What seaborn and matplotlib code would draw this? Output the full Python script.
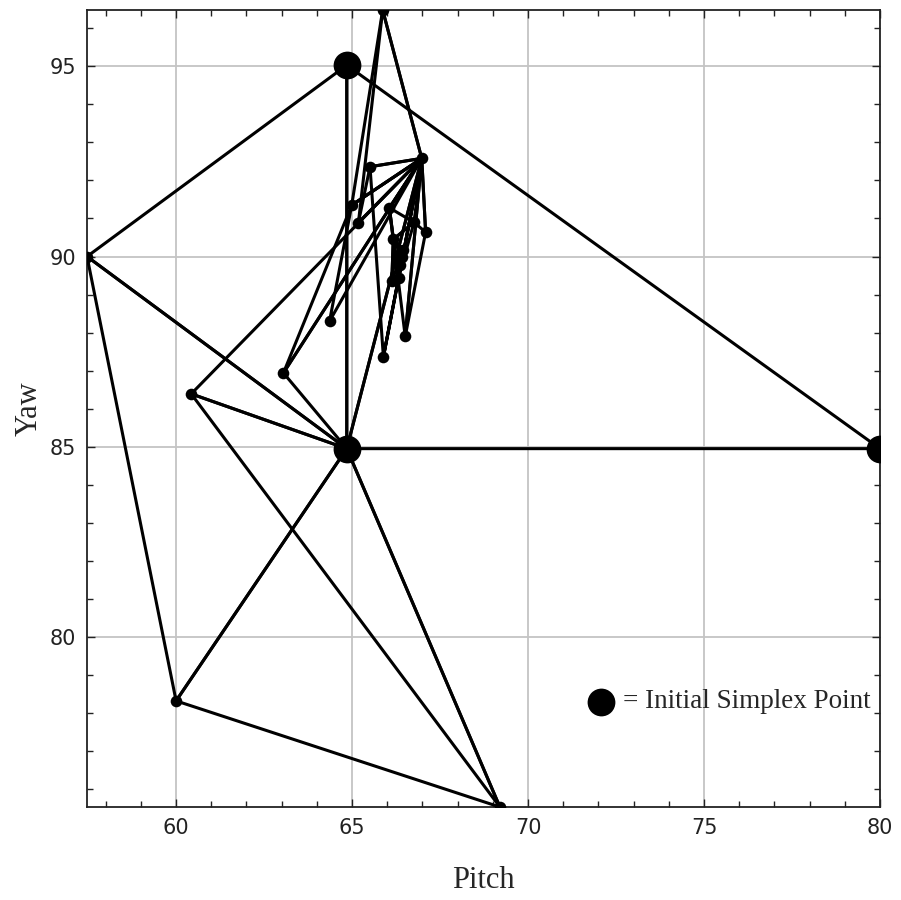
import matplotlib
matplotlib.use("Agg")
import matplotlib.pyplot as plt
from matplotlib.ticker import MultipleLocator
import numpy as np
import pandas as pd
import seaborn as sb

# vertices visited by the simplex search (pitch, yaw)
pitch = [64.85, 64.85, 80.00, 57.47, 60.00, 69.20, 60.43, 66.98, 63.05, 64.99,
         64.36, 65.87, 65.18, 65.51, 65.89, 66.06, 66.51, 67.09, 66.76, 66.17,
         66.13, 66.32, 66.46, 66.41, 66.36]
yaw = [95.03, 84.95, 84.95, 90.00, 78.32, 75.53, 86.39, 92.58, 86.94, 91.35,
       88.30, 96.48, 90.89, 92.36, 87.36, 91.28, 87.90, 90.64, 90.90, 90.45,
       89.35, 89.44, 90.18, 90.00, 89.79]
initial = [0, 1, 2]

# successive simplices (vertex indices)
simplices = [(0, 1, 2), (0, 1, 3), (1, 3, 4), (1, 4, 5), (1, 5, 6), (1, 6, 7),
             (1, 7, 8), (7, 8, 9), (7, 9, 10), (7, 9, 11), (7, 11, 12),
             (7, 12, 13), (7, 13, 14), (7, 14, 21), (7, 21, 15), (7, 15, 16),
             (7, 16, 17), (7, 17, 18), (15, 18, 19), (18, 19, 21), (19, 21, 20),
             (19, 20, 22), (19, 22, 23), (22, 23, 24), (21, 23, 24)]

rows = []
for k, tri in enumerate(simplices):
    for i in list(tri) + [tri[0]]:
        rows.append((k, pitch[i], yaw[i]))
df_lines = pd.DataFrame(rows, columns=["simplex", "Pitch", "Yaw"])

df_pts = pd.DataFrame({"Pitch": pitch, "Yaw": yaw})
df_pts["initial"] = df_pts.index.isin(initial)

sb.set_style("ticks")
plt.rcParams["font.family"] = ["DejaVu Sans"]

fig, ax = plt.subplots(figsize=(9.01, 9.0), dpi=100)
fig.subplots_adjust(left=0.0966, right=0.9767, top=0.9889, bottom=0.1033)

sb.lineplot(data=df_lines, x="Pitch", y="Yaw", units="simplex", estimator=None,
            sort=False, color="black", lw=2.2, ax=ax, zorder=3)
sb.scatterplot(data=df_pts[~df_pts["initial"]], x="Pitch", y="Yaw", s=70,
               color="black", linewidth=0, ax=ax, zorder=4)
sb.scatterplot(data=df_pts[df_pts["initial"]], x="Pitch", y="Yaw", s=400,
               color="black", linewidth=0, ax=ax, zorder=5)

ax.set_xlim(min(pitch), max(pitch))
ax.set_ylim(min(yaw), max(yaw))
ax.xaxis.set_major_locator(MultipleLocator(5))
ax.xaxis.set_minor_locator(MultipleLocator(1))
ax.yaxis.set_major_locator(MultipleLocator(5))
ax.yaxis.set_minor_locator(MultipleLocator(1))
ax.tick_params(which="both", direction="in", top=True, right=True,
               colors="#222222", labelsize=15, width=1)
ax.tick_params(which="major", length=6, pad=8)
ax.tick_params(which="minor", length=4)
ax.grid(which="major", color="#c4c4c4", lw=1.3)
ax.set_axisbelow(True)
for sp in ax.spines.values():
    sp.set_color("#222222")
    sp.set_linewidth(1.3)

ax.set_xlabel("Pitch", family="Liberation Serif", fontsize=22, labelpad=20)
ax.set_ylabel("Yaw", family="Liberation Serif", fontsize=22, labelpad=4)

# key for the large markers
ax.scatter([0.648], [0.132], transform=ax.transAxes, s=400, color="black",
           linewidth=0, zorder=6)
ax.text(0.676, 0.132, "= Initial Simplex Point", transform=ax.transAxes,
        va="center", ha="left", family="Liberation Serif", fontsize=19.5)

fig.savefig("out.png", dpi=100)
